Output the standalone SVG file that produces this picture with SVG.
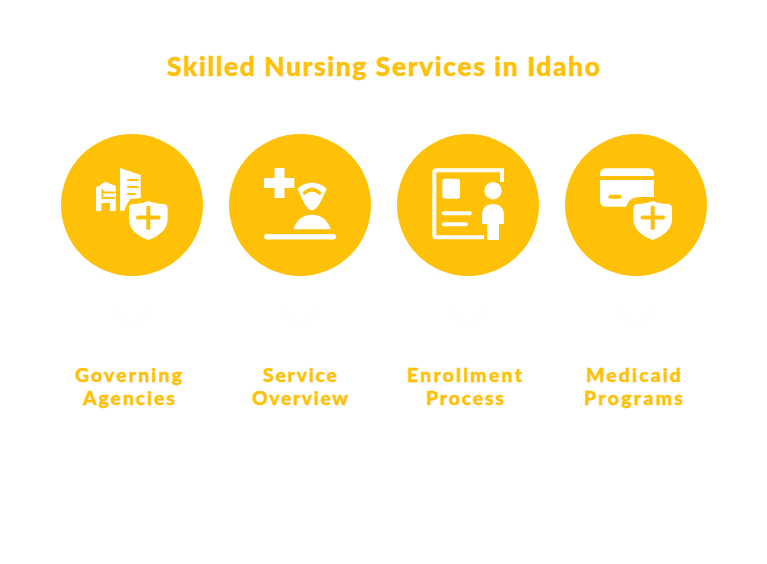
<svg xmlns="http://www.w3.org/2000/svg" width="767" height="564" viewBox="0 0 767 564">
<defs>
<path id="shield" d="M0 -19.500C5 -17.500 10 -16.500 15 -16.500Q19.300 -16.500 19.300 -12V-1C19.300 9 10 16 0 19.500C-10 16 -19.300 9 -19.300 -1V-12Q-19.300 -16.500 -15 -16.500C-10 -16.500 -5 -17.500 0 -19.500Z"/>
<path id="chev" d="M-16 -6L0 6L16 -6"/>
</defs>
<style>
.c{fill:#FFC107}
.w{fill:#fff}
.o{fill:#FFC107}
.t{font-family:"Lato","Noto Sans",sans-serif;font-weight:900;fill:#FFC107;stroke:#FFC107;stroke-width:.4px;stroke-linejoin:round}
.l{font-size:19.500px}
.f{fill:none;stroke:#fcfcfc;stroke-width:2}
.wl{fill:none;stroke:#fff}
.ol{fill:none;stroke:#FFC107;stroke-linecap:round}
</style>
<rect width="767" height="564" fill="#fff"/>
<text id="title" class="t" x="167" y="76" font-size="26.500" textLength="433" lengthAdjust="spacing">Skilled Nursing Services in Idaho</text>
<g id="connectors">
<use href="#chev" class="f" x="132" y="318"/>
<use href="#chev" class="f" x="300" y="318"/>
<use href="#chev" class="f" x="468" y="318"/>
<use href="#chev" class="f" x="636" y="318"/>
</g>
<g id="node-governing">
<circle class="c" cx="132" cy="205" r="71"/>
<path class="w" d="M96 211V187.500L105.500 181.700L115.700 186V211H110V203H101.500V211Z"/>
<path class="ol" d="M102.500 190V198M104 192.500H114M104 198H114" stroke-width="2"/>
<path class="w" d="M120 168L140.700 175V198L130 199L124 210.700H120Z"/>
<path class="ol" d="M128 180H138M128 187H138M128 194H135" stroke-width="2"/>
<use href="#shield" x="148.300" y="220.500" class="o" stroke="#FFC107" stroke-width="6"/>
<use href="#shield" x="148.300" y="220.500" class="w"/>
<path class="ol" d="M138 217.500H158.600M148.300 207.500V228" stroke-width="4"/>
<text class="t l" x="75" y="381.500" textLength="107" lengthAdjust="spacing">Governing</text>
<text class="t l" x="83" y="405" textLength="92" lengthAdjust="spacing">Agencies</text>
</g>
<g id="node-service">
<circle class="c" cx="300" cy="205" r="71"/>
<path class="w" d="M274.500 168H284.500V178H294.300V188H284.500V198H274.500V188H264V178H274.500Z"/>
<path class="w" d="M297.500 189C305 180.500 319 180.500 326.700 189L320 203C317.500 207 315 210 312 210.500C309 210 306.500 207 304 203Z"/>
<path class="ol" d="M304.500 193C309.500 188.500 314.500 188.500 319.500 193" stroke-width="3.500" stroke-linecap="butt"/>
<path class="w" d="M293.300 229.300C296 220 303 214.700 312 214.700C321 214.700 328 220 330.700 229.300Z"/>
<rect class="w" x="264" y="234" width="72" height="5.400" rx="2.700"/>
<text class="t l" x="263" y="381.500" textLength="74" lengthAdjust="spacing">Service</text>
<text class="t l" x="252" y="405" textLength="96" lengthAdjust="spacing">Overview</text>
</g>
<g id="node-enrollment">
<circle class="c" cx="468" cy="205" r="71"/>
<path class="wl" d="M484 237.300H436.500Q434.300 237.300 434.300 235V172.500Q434.300 170.300 436.500 170.300H502V182" stroke-width="4"/>
<rect class="w" x="442.300" y="178.700" width="17.700" height="20" rx="3"/>
<circle class="w" cx="493" cy="190.700" r="8.700"/>
<path class="w" d="M482 224V214C482 208 487 204 493 204C499 204 504 208 504 214V224H499V240H487.300V224Z"/>
<rect class="w" x="441.700" y="211.300" width="30" height="4" rx="2"/>
<rect class="w" x="441.700" y="222.300" width="26" height="4" rx="2"/>
<text class="t l" x="407" y="381.500" textLength="115" lengthAdjust="spacing">Enrollment</text>
<text class="t l" x="426" y="405" textLength="78" lengthAdjust="spacing">Process</text>
</g>
<g id="node-medicaid">
<circle class="c" cx="636" cy="205" r="71"/>
<path class="w" d="M600 176V174.300Q600 168.300 606 168.300H648Q654 168.300 654 174.300V176ZM600 180H654V197H640Q633 197 629 201L626 206.700H606Q600 206.700 600 200.700Z"/>
<rect class="o" x="608.300" y="194.700" width="13.400" height="4" rx="2"/>
<use href="#shield" x="652.700" y="220.500" class="o" stroke="#FFC107" stroke-width="6"/>
<use href="#shield" x="652.700" y="220.500" class="w"/>
<path class="ol" d="M642.400 217.500H663M652.700 207.500V228" stroke-width="4"/>
<text class="t l" x="586" y="381.500" textLength="95" lengthAdjust="spacing">Medicaid</text>
<text class="t l" x="584" y="405" textLength="99" lengthAdjust="spacing">Programs</text>
</g>
</svg>
